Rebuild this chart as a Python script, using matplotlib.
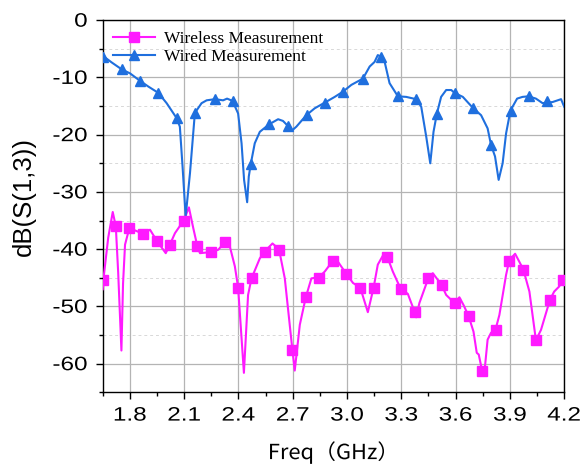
import matplotlib
matplotlib.use("Agg")
import matplotlib.pyplot as plt
from matplotlib.lines import Line2D
from matplotlib.ticker import MultipleLocator
from matplotlib.patheffects import AbstractPathEffect
from matplotlib.transforms import Affine2D

# ---------------- data ----------------
wired_f = [1.65, 1.653, 1.70, 1.755, 1.801, 1.856, 1.902, 1.957, 2.003, 2.058, 2.076, 2.091, 2.108,
           2.132, 2.159, 2.196, 2.224, 2.27, 2.315, 2.337, 2.367, 2.398, 2.417, 2.431, 2.448,
           2.457, 2.468, 2.49, 2.518, 2.569, 2.619, 2.646, 2.674, 2.695, 2.72, 2.775, 2.821,
           2.877, 2.932, 2.977, 3.024, 3.088, 3.125, 3.152, 3.17, 3.183, 3.208, 3.235, 3.281,
           3.327, 3.382, 3.41, 3.438, 3.46, 3.478, 3.496, 3.52, 3.548, 3.576, 3.594, 3.64,
           3.695, 3.741, 3.777, 3.796, 3.818, 3.838, 3.86, 3.879, 3.903, 3.94, 3.97, 4.003,
           4.044, 4.081, 4.105, 4.136, 4.183, 4.2]
wired_db = [-5.8, -6.3, -7.4, -8.6, -9.3, -10.6, -11.6, -12.7, -14.5, -17.1, -18.6, -25.6, -34.3,
            -26.7, -16.2, -14.5, -14.0, -13.8, -14.0, -13.7, -14.1, -16.3, -21.5, -27.9, -31.8,
            -27.3, -25.1, -21.5, -19.5, -18.2, -17.3, -17.6, -18.5, -19.3, -18.6, -16.6, -15.4,
            -14.4, -13.4, -12.5, -11.3, -10.2, -8.1, -7.3, -6.1, -6.3, -7.3, -11.0, -13.3,
            -13.4, -13.8, -15.1, -20.4, -25.0, -19.5, -16.4, -13.4, -12.2, -12.2, -12.7, -13.4,
            -15.3, -16.6, -18.9, -21.8, -23.8, -27.9, -25.0, -19.8, -15.8, -13.7, -13.4, -13.3,
            -13.7, -14.5, -14.4, -14.3, -13.8, -15.1]
wired_mk_f = [1.653, 1.755, 1.856, 1.957, 2.058, 2.159, 2.27, 2.367, 2.468, 2.569, 2.674, 2.777,
              2.877, 2.977, 3.088, 3.186, 3.283, 3.382, 3.497, 3.594, 3.695, 3.796, 3.905,
              4.008, 4.106]
wired_mk_db = [-6.4, -8.6, -10.6, -12.7, -17.1, -16.2, -13.8, -14.1, -25.1, -18.1, -18.5, -16.6,
               -14.4, -12.5, -10.2, -6.4, -13.2, -13.8, -16.4, -12.7, -15.3, -21.8, -15.8,
               -13.3, -14.2]

wireless_f = [1.65, 1.653, 1.68, 1.705, 1.722, 1.735, 1.753, 1.762, 1.773, 1.797, 1.871, 1.911,
              1.948, 1.998, 2.021, 2.049, 2.099, 2.126, 2.15, 2.172, 2.187, 2.248, 2.288, 2.325,
              2.352, 2.38, 2.398, 2.43, 2.453, 2.472, 2.518, 2.545, 2.588, 2.624, 2.656, 2.698,
              2.711, 2.739, 2.772, 2.803, 2.845, 2.877, 2.922, 2.95, 2.996, 3.033, 3.073, 3.115,
              3.147, 3.17, 3.202, 3.222, 3.253, 3.296, 3.336, 3.373, 3.382, 3.4, 3.449, 3.474,
              3.522, 3.548, 3.594, 3.621, 3.643, 3.671, 3.699, 3.717, 3.728, 3.747, 3.759,
              3.777, 3.796, 3.821, 3.842, 3.879, 3.897, 3.929, 3.974, 4.008, 4.044, 4.072,
              4.122, 4.145, 4.173, 4.191, 4.2]
wireless_db = [-47.0, -45.4, -38.0, -33.5, -36.0, -44.0, -57.7, -46.0, -39.2, -36.3, -37.3, -36.6,
               -38.5, -40.7, -39.2, -37.2, -34.9, -32.7, -36.3, -39.4, -40.7, -40.5, -40.1, -38.8,
               -39.5, -43.0, -46.7, -61.6, -48.0, -45.1, -41.6, -40.4, -39.0, -40.0, -45.1, -57.6,
               -61.2, -53.2, -48.4, -45.1, -44.9, -43.9, -42.0, -42.2, -44.3, -45.9, -46.7, -51.0,
               -46.7, -42.7, -40.9, -41.3, -43.9, -46.9, -47.8, -50.9, -51.9, -49.4, -45.1, -44.2,
               -46.2, -48.0, -49.4, -48.4, -49.7, -51.6, -54.4, -58.1, -58.4, -61.3, -61.6,
               -55.8, -54.6, -54.0, -51.5, -44.5, -41.9, -40.8, -43.5, -47.4, -55.9, -54.1,
               -48.8, -47.4, -46.5, -45.3, -45.0]
wireless_mk_f = [1.653, 1.722, 1.797, 1.871, 1.948, 2.021, 2.099, 2.172, 2.248, 2.325, 2.398,
                 2.472, 2.545, 2.624, 2.698, 2.772, 2.847, 2.922, 2.997, 3.072, 3.147, 3.222,
                 3.297, 3.373, 3.449, 3.523, 3.596, 3.672, 3.747, 3.822, 3.897, 3.974, 4.046,
                 4.122, 4.193]
wireless_mk_db = [-45.4, -36.0, -36.3, -37.3, -38.5, -39.3, -35.0, -39.5, -40.5, -38.8, -46.7,
                  -45.1, -40.5, -40.1, -57.6, -48.4, -45.0, -42.1, -44.3, -46.7, -46.7, -41.4,
                  -46.9, -50.9, -45.1, -46.3, -49.4, -51.6, -61.3, -54.1, -42.0, -43.6, -55.9,
                  -48.9, -45.4]

x_ticks = [1.8, 2.1, 2.4, 2.7, 3.0, 3.3, 3.6, 3.9, 4.2]
y_ticks = [0, -10, -20, -30, -40, -50, -60]


class HStretch(AbstractPathEffect):
    """Horizontally widen text glyphs around an anchor (left/center/right)."""

    def __init__(self, sx, anchor="center"):
        super().__init__()
        self.sx = sx
        self.anchor = anchor

    def draw_path(self, renderer, gc, tpath, affine, rgbFace=None):
        bb = tpath.get_extents(affine)
        if self.anchor == "right":
            x0 = bb.x1
        elif self.anchor == "left":
            x0 = bb.x0
        else:
            x0 = 0.5 * (bb.x0 + bb.x1)
        aff = affine + Affine2D().translate(-x0, 0).scale(self.sx, 1.0).translate(x0, 0)
        renderer.draw_path(gc, tpath, aff, rgbFace)


# ---------------- style ----------------
blue = "#1F6FDE"
pink = "#FF1AFF"

fig = plt.figure(figsize=(5.84, 4.69), dpi=100)
ax = fig.add_axes([0.176, 0.1635, 0.79, 0.7935])

ax.plot(wireless_f, wireless_db, color=pink, lw=1.5, zorder=3)
ax.plot(wireless_mk_f, wireless_mk_db, ls="none", marker="s", ms=6.5, color=pink, zorder=4)
ax.plot(wired_f, wired_db, color=blue, lw=1.5, zorder=3)
ax.plot(wired_mk_f, wired_mk_db, ls="none", marker="^", ms=7.5, color=blue, zorder=4)

ax.set_xlim(1.65, 4.2)
ax.set_ylim(-65, 0)
ax.set_xticks(x_ticks)
ax.set_xticklabels([f"{v:.1f}" for v in x_ticks])
ax.set_yticks(y_ticks)
ax.set_yticklabels([str(v) for v in y_ticks])
ax.xaxis.set_minor_locator(MultipleLocator(0.15))
ax.yaxis.set_minor_locator(MultipleLocator(5))

ax.grid(which="major", color="#b4b4b4", lw=0.9, ls="-")
ax.grid(which="minor", axis="y", color="#d8d8d8", lw=0.7, ls=(0, (3, 3)))
ax.set_axisbelow(True)

for s in ax.spines.values():
    s.set_color("black")
    s.set_linewidth(1.0)

ax.tick_params(axis="both", which="major", direction="out", length=5, width=1.0,
               labelsize=14, pad=6)
ax.tick_params(axis="both", which="minor", direction="out", length=3, width=1.0)
for lbl in ax.get_xticklabels():
    lbl.set_family("Liberation Sans")
    lbl.set_path_effects([HStretch(1.25, "center")])
for lbl in ax.get_yticklabels():
    lbl.set_family("Liberation Sans")
    lbl.set_path_effects([HStretch(1.25, "right")])

ax.set_ylabel("dB(S(1,3))", fontsize=18.5, family="Liberation Sans")
ax.yaxis.set_label_coords(-0.145, 0.525)
ax.set_xlabel("Freq（GHz）", fontsize=15, family=["Noto Sans CJK SC", "DejaVu Sans"], labelpad=12)
ax.xaxis.label.set_path_effects([HStretch(1.05, "center")])

handles = [
    Line2D([], [], color=pink, lw=1.5, marker="s", ms=6.5),
    Line2D([], [], color=blue, lw=1.5, marker="^", ms=7.5),
]
ax.legend(handles, ["Wireless Measurement", "Wired Measurement"], loc="upper left",
          frameon=False, prop={"family": "Liberation Serif", "size": 12.5},
          handlelength=2.4, handletextpad=0.55, labelspacing=0.15,
          borderaxespad=0.2, bbox_to_anchor=(0.0, 1.0))

fig.savefig("out.png", dpi=100)
